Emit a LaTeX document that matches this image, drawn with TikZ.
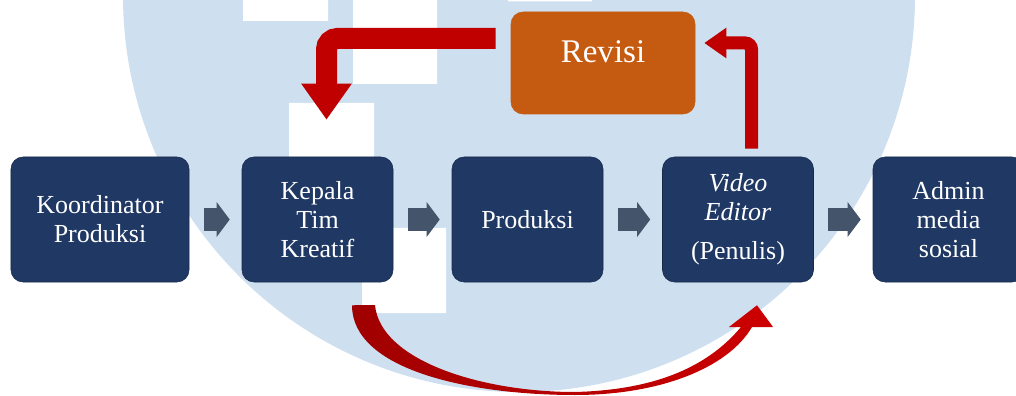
\documentclass[tikz,border=0pt]{standalone}
\usepackage{fontspec}
\setmainfont{Liberation Serif}
\usetikzlibrary{arrows.meta,calc}
\definecolor{navy}{HTML}{1F3864}
\definecolor{revisiorange}{HTML}{C55A11}
\definecolor{arrowgray}{HTML}{44546A}
\definecolor{arrowred}{HTML}{C00000}
\definecolor{curvedark}{HTML}{A00000}
\definecolor{curvelight}{HTML}{CC0000}
\definecolor{logoblue}{HTML}{CEDFEF}
\begin{document}
\begin{tikzpicture}[x=0.25mm, y=-0.25mm,
	every node/.style={rectangle, rounded corners=3mm, fill=navy, draw=navy!75!black, text=white, align=center, minimum width=37.75mm, minimum height=31.25mm, font=\fontsize{18.5}{20.6}\selectfont},
	grayarrow/.style={draw=arrowgray, line width=5.75mm, -{Triangle[length=3.25mm, width=8.5mm]}, shorten <=3.6mm, shorten >=3mm},
	redarrow/.style={draw=arrowred}]
\useasboundingbox (0,0) rectangle (1016,396);
\clip (0,0) rectangle (1016,396);
% logo behind
\fill[logoblue] (519,-4) circle [radius=396];
\fill[white] (243,0) rectangle (328,21) (353,0) rectangle (437,84) (289,103) rectangle (374,200) (362,228) rectangle (446,313) (508,0) rectangle (592,1.5);
%
\node[minimum width=44.5mm](1) at(100,219.5){Koordinator\\Produksi};
\node(2) at(317.5,219.5){Kepala\\Tim\\Kreatif};
\node(3) at(527.5,219.5){Produksi};
\node(4) at(738,219.5){\textit{Video}\\\textit{Editor}\\[2.5mm](Penulis)};
\node(5) at(948.5,219.5){Admin\\media\\sosial};
\node[fill=revisiorange, draw=revisiorange, minimum width=46mm, minimum height=25.5mm, text height=5mm, text depth=5mm, font=\fontsize{23.5}{26}\selectfont](6) at(603,63){Revisi};
%
\foreach \a/\b in {1/2,2/3,3/4,4/5}{
\draw[grayarrow] (\a) -- (\b);
}
%
\draw[redarrow, line width=5.25mm, rounded corners=2.75mm, -{Triangle[length=9mm, width=12mm]}] ($(6.west)+(-15,-24.5)$) -| ($(2.north)+(9,-37)$);
\draw[redarrow, line width=3.25mm, rounded corners=1.6mm, -{Triangle[length=5.5mm, width=7.25mm]}] ($(4.north)+(13.5,-8)$) |- ($(6.east)+(9,-20)$);
\shade[left color=curvedark, right color=curvelight] ($(2.south)+(34.5,23)$) .. controls (352,370) and (470,395) .. (575,395)
	.. controls (660,395) and (728,368) .. (752,327) -- (773,327) -- ($(4.south)+(19,23)$) -- (729,327) -- (741,327)
	.. controls (705,370) and (650,390) .. (575,392) .. controls (480,392) and (380,360) .. (375,305) -- cycle;
\end{tikzpicture}
\end{document}
